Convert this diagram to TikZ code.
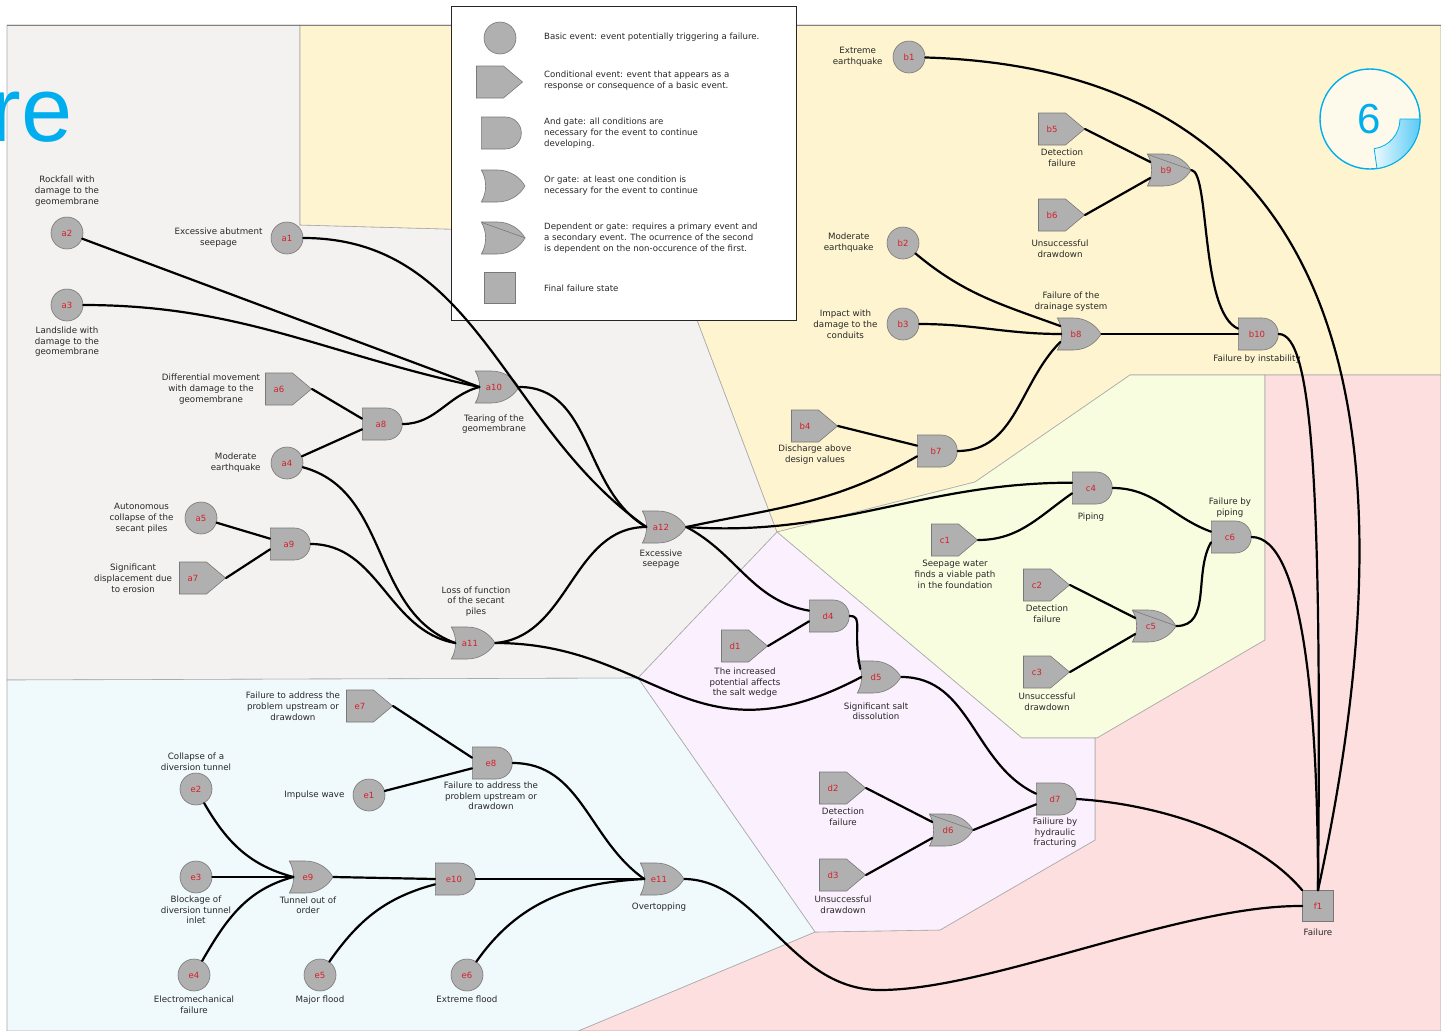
\documentclass[tikz,border=0pt]{standalone}
\usepackage{fontspec}
\setmainfont{DejaVu Sans}
\newfontfamily\titlefont{Liberation Sans}
\usetikzlibrary{positioning,calc,shapes.symbols,shapes.gates.logic.US}
\definecolor{evtfill}{RGB}{176,176,176}
\definecolor{evtline}{RGB}{120,120,120}
\definecolor{idred}{RGB}{215,30,40}
\definecolor{lbltext}{RGB}{40,40,40}
\definecolor{zonegrey}{RGB}{243,242,240}
\definecolor{zoneyellow}{RGB}{254,244,207}
\definecolor{zonegreen}{RGB}{249,253,224}
\definecolor{zonepink}{RGB}{253,223,223}
\definecolor{zonelilac}{RGB}{251,240,253}
\definecolor{zoneblue}{RGB}{240,249,252}
\definecolor{zoneline}{RGB}{170,170,170}
\definecolor{badgeblue}{RGB}{0,174,239}
\definecolor{badgecream}{RGB}{253,250,236}
\tikzset{
  evt/.style={draw=evtline,fill=evtfill,line width=0.6pt,text=idred,font=\fontsize{8.5}{9}\selectfont,inner sep=0pt},
  basicevt/.style={evt,circle,minimum size=32pt},
  condevt/.style={evt,signal,signal to=east,signal pointer angle=80,minimum width=46pt,minimum height=32pt},
  andgate/.style={evt,and gate US,logic gate inputs=nn,minimum width=38pt,minimum height=32pt},
  orgate/.style={evt,or gate US,logic gate inputs=nnn,minimum width=37pt,minimum height=32pt},
  finalst/.style={evt,rectangle,minimum size=31pt},
  lbl/.style={align=center,text=lbltext,font=\fontsize{8.7}{10.9}\selectfont,inner sep=0pt},
  condlbl/.style={lbl,xshift=10pt},
  lgtext/.style={lbl,align=left,anchor=west,font=\fontsize{8.6}{10.8}\selectfont},
  link/.style={line width=2.2pt,line cap=round},
  zone/.style={draw=zoneline,line width=0.6pt}
}
\begin{document}
\begin{tikzpicture}[x=1pt,y=-1pt]
\useasboundingbox (0,0) rectangle (1441,1031);
\fill[white] (0,0) rectangle (1441,1031);

\filldraw[zone,fill=zonegrey] (7,25) -- (300,25) -- (300,225) -- (665,235) -- (777,532) -- (638,678) -- (7,680) -- cycle;
\filldraw[zone,fill=zoneyellow] (300,25) -- (1441,25) -- (1441,375) -- (1130,375) -- (975,482) -- (777,532) -- (665,235) -- (300,225) -- cycle;
\filldraw[zone,fill=zonegreen] (777,532) -- (975,482) -- (1130,375) -- (1265,375) -- (1265,640) -- (1097,738) -- (1022,738) -- cycle;
\filldraw[zone,fill=zonepink] (1265,375) -- (1441,375) -- (1441,1031) -- (578,1031) -- (815,932) -- (940,930) -- (1095,840) -- (1095,738) -- (1097,738) -- (1265,640) -- cycle;
\filldraw[zone,fill=zonelilac] (777,532) -- (1022,738) -- (1095,738) -- (1095,840) -- (940,930) -- (815,932) -- (638,678) -- cycle;
\filldraw[zone,fill=zoneblue] (7,680) -- (638,678) -- (815,932) -- (578,1031) -- (7,1031) -- cycle;
\draw[gray,line width=0.8pt] (7,25) -- (1441,25);

\node[anchor=base east,text=badgeblue,font=\titlefont\fontsize{92}{92}\selectfont,inner sep=0pt] (titlere) at (73,141) {re};

\draw (1370,119) node[circle,draw=badgeblue,line width=1.4pt,fill=badgecream,minimum size=100pt] (badge) {};
\begin{scope}[shift={(1370,119)},y=1pt]
  \shade[left color=badgeblue!8,right color=badgeblue!65,draw=badgeblue,line width=0.8pt] (0:30) -- (0:50) arc[start angle=0,end angle=-82,radius=50] -- (-82:30) arc[start angle=-82,end angle=0,radius=30] -- cycle;
\end{scope}
\draw (1369,119) node[text=badgeblue,font=\titlefont\fontsize{42}{42}\selectfont,inner sep=0pt] (badgenum) {6};

\draw (451,6) node[draw=black!85,fill=white,line width=1pt,minimum width=345pt,minimum height=314pt,anchor=north west,inner sep=0pt] (legend) {};
\draw (500,38) node[basicevt] (lgbasic) {};
\draw (490,82) node[condevt] (lgcond) {};
\draw (500,133) node[andgate] (lgand) {};
\draw (500,186) node[orgate] (lgor) {};
\draw (500,238) node[orgate] (lgdepor) {};
\draw (500,288) node[finalst] (lgfinal) {};
\node[lgtext] (lgbasictxt) at (544,37) {Basic event: event potentially triggering a failure.};
\node[lgtext] (lgcondtxt) at (544,81) {Conditional event: event that appears as a\\response or consequence of a basic event.};
\node[lgtext] (lgandtxt) at (544,133) {And gate: all conditions are\\necessary for the event to continue\\developing.};
\node[lgtext] (lgortxt) at (544,186) {Or gate: at least one condition is\\necessary for the event to continue};
\node[lgtext] (lgdeportxt) at (544,238) {Dependent or gate: requires a primary event and\\a secondary event. The ocurrence of the second\\is dependent on the non-occurence of the first.};
\node[lgtext] (lgfinaltxt) at (544,288) {Final failure state};

\draw (67,233) node[basicevt] (a2) {a2};
\draw (67,305) node[basicevt] (a3) {a3};
\draw (287,238) node[basicevt] (a1) {a1};
\draw (279,389) node[condevt] (a6) {a6};
\draw (381,424) node[andgate] (a8) {a8};
\draw (287,463) node[basicevt] (a4) {a4};
\draw (494,387) node[orgate] (a10) {a10};
\draw (201,518) node[basicevt] (a5) {a5};
\draw (289,544) node[andgate] (a9) {a9};
\draw (193,578) node[condevt] (a7) {a7};
\draw (470,643) node[orgate] (a11) {a11};
\draw (661,527) node[orgate] (a12) {a12};

\draw (909,57) node[basicevt] (b1) {b1};
\draw (1052,129) node[condevt] (b5) {b5};
\draw (1166,170) node[orgate] (b9) {b9};
\draw (1052,215) node[condevt] (b6) {b6};
\draw (903,243) node[basicevt] (b2) {b2};
\draw (903,324) node[basicevt] (b3) {b3};
\draw (1076,334) node[orgate] (b8) {b8};
\draw (1257,334) node[andgate] (b10) {b10};
\draw (805,426) node[condevt] (b4) {b4};
\draw (936,451) node[andgate] (b7) {b7};

\draw (1091,488) node[andgate] (c4) {c4};
\draw (945,540) node[condevt] (c1) {c1};
\draw (1230,537) node[andgate] (c6) {c6};
\draw (1037,585) node[condevt] (c2) {c2};
\draw (1151,626) node[orgate] (c5) {c5};
\draw (1037,672) node[condevt] (c3) {c3};

\draw (828,616) node[andgate] (d4) {d4};
\draw (735,646) node[condevt] (d1) {d1};
\draw (876,677) node[orgate] (d5) {d5};
\draw (833,788) node[condevt] (d2) {d2};
\draw (948,830) node[orgate] (d6) {d6};
\draw (833,875) node[condevt] (d3) {d3};
\draw (1055,799) node[andgate] (d7) {d7};

\draw (360,706) node[condevt] (e7) {e7};
\draw (491,763) node[andgate] (e8) {e8};
\draw (369,795) node[basicevt] (e1) {e1};
\draw (196,789) node[basicevt] (e2) {e2};
\draw (196,877) node[basicevt] (e3) {e3};
\draw (308,877) node[orgate] (e9) {e9};
\draw (454,879) node[andgate] (e10) {e10};
\draw (659,879) node[orgate] (e11) {e11};
\draw (194,975) node[basicevt] (e4) {e4};
\draw (320,975) node[basicevt] (e5) {e5};
\draw (467,975) node[basicevt] (e6) {e6};

\draw (1318,906) node[finalst] (f1) {f1};

\foreach \g in {lgdepor,b9,c5,d6}
  \draw[evtline,line width=0.6pt] ($(\g.center)+(-18,-15.5)$) -- (\g.output);

\node[lbl,above=10pt of a2] (a2lbl) {Rockfall with\\damage to the\\geomembrane};
\node[lbl,below=5pt of a3] (a3lbl) {Landslide with\\damage to the\\geomembrane};
\node[lbl,left=8pt of a1] (a1lbl) {Excessive abutment\\seepage};
\node[lbl,left=5pt of a6] (a6lbl) {Differential movement\\with damage to the\\geomembrane};
\node[lbl,left=10pt of a4] (a4lbl) {Moderate\\earthquake};
\node[lbl,below=11pt of a10] (a10lbl) {Tearing of the\\geomembrane};
\node[lbl,left=11pt of a5] (a5lbl) {Autonomous\\collapse of the\\secant piles};
\node[lbl,left=7pt of a7] (a7lbl) {Significant\\displacement due\\to erosion};
\node[lbl,above=10pt of a11,xshift=6pt] (a11lbl) {Loss of function\\of the secant\\piles};
\node[lbl,below=6pt of a12] (a12lbl) {Excessive\\seepage};

\node[lbl,left=10pt of b1] (b1lbl) {Extreme\\earthquake};
\node[condlbl,below=3pt of b5] (b5lbl) {Detection\\failure};
\node[condlbl,below=8pt of b6,xshift=-2pt] (b6lbl) {Unsuccessful\\drawdown};
\node[lbl,left=13pt of b2] (b2lbl) {Moderate\\earthquake};
\node[lbl,left=9pt of b3] (b3lbl) {Impact with\\damage to the\\conduits};
\node[lbl,above=6pt of b8,xshift=-5pt] (b8lbl) {Failure of the\\drainage system};
\node[lbl,below=4pt of b10] (b10lbl) {Failure by instability};
\node[condlbl,below=2pt of b4] (b4lbl) {Discharge above\\design values};

\node[lbl,below=8pt of c4] (c4lbl) {Piping};
\node[condlbl,below=4pt of c1] (c1lbl) {Seepage water\\finds a viable path\\in the foundation};
\node[lbl,above=3pt of c6] (c6lbl) {Failure by\\piping};
\node[condlbl,below=3pt of c2] (c2lbl) {Detection\\failure};
\node[condlbl,below=4pt of c3] (c3lbl) {Unsuccessful\\drawdown};

\node[condlbl,below=5pt of d1] (d1lbl) {The increased\\potential affects\\the salt wedge};
\node[lbl,below=9pt of d5] (d5lbl) {Significant salt\\dissolution};
\node[condlbl,below=3pt of d2] (d2lbl) {Detection\\failure};
\node[condlbl,below=4pt of d3] (d3lbl) {Unsuccessful\\drawdown};
\node[lbl,below=2pt of d7] (d7lbl) {Failiure by\\hydraulic\\fracturing};

\node[lbl,left=6pt of e7] (e7lbl) {Failure to address the\\problem upstream or\\drawdown};
\node[lbl,below=2pt of e8] (e8lbl) {Failure to address the\\problem upstream or\\drawdown};
\node[lbl,left=8pt of e1] (e1lbl) {Impulse wave};
\node[lbl,above=2pt of e2] (e2lbl) {Collapse of a\\diversion tunnel};
\node[lbl,below=2pt of e3] (e3lbl) {Blockage of\\diversion tunnel\\inlet};
\node[lbl,below=3pt of e9] (e9lbl) {Tunnel out of\\order};
\node[lbl,below=7pt of e11] (e11lbl) {Overtopping};
\node[lbl,below=4pt of e4] (e4lbl) {Electromechanical\\failure};
\node[lbl,below=4pt of e5] (e5lbl) {Major flood};
\node[lbl,below=4pt of e6] (e6lbl) {Extreme flood};

\node[lbl,below=7pt of f1] (f1lbl) {Failure};

\draw[link] (a2) -- (a10.input 2);
\draw[link] (a3) to[out=0,in=168] (a10.input 2);
\draw[link] (a8.output) to[out=0,in=195] (a10.input 2);
\draw[link] (a6.east) -- (a8.input 1);
\draw[link] (a4) -- (a8.input 2);
\draw[link] (a1) to[out=0,in=145] (a12.input 2);
\draw[link] (a10.output) to[out=0,in=150] (a12.input 2);
\draw[link] (a5) -- (a9.input 1);
\draw[link] (a7.east) -- (a9.input 2);
\draw[link] (a4) to[out=-15,in=160] (a11.input 2);
\draw[link] (a9.output) to[out=0,in=170] (a11.input 2);
\draw[link] (a11.output) to[out=5,in=180] (a12.input 2);
\draw[link] (a11.output) .. controls +(160,0) and +(-170,90) .. (d5.input 2);
\draw[link] (a12.output) to[out=12,in=210] (b7.input 2);
\draw[link] (a12.output) to[out=-4,in=180] (c4.input 1);
\draw[link] (a12.output) to[out=-28,in=170] (d4.input 1);

\draw[link] (b1) .. controls (1350,70) and (1420,420) .. (f1.north);
\draw[link] (b5.east) -- (b9.input 1);
\draw[link] (b6.east) -- (b9.input 3);
\draw[link] (b9.output) .. controls (1210,172) and (1200,312) .. (b10.input 1);
\draw[link] (b2) to[out=-40,in=160] (b8.input 1);
\draw[link] (b3) to[out=0,in=180] (b8.input 2);
\draw[link] (b7.output) to[out=0,in=225] (b8.input 3);
\draw[link] (b8.output) -- (b10.west);
\draw[link] (b4.east) -- (b7.input 1);
\draw[link] (b10.output) .. controls (1312,334) and (1322,480) .. (f1.north);

\draw[link] (c1.east) to[out=0,in=215] (c4.input 2);
\draw[link] (c4.output) to[out=0,in=160] (c6.input 1);
\draw[link] (c2.east) -- (c5.input 1);
\draw[link] (c3.east) -- (c5.input 3);
\draw[link] (c5.output) to[out=0,in=240] (c6.input 2);
\draw[link] (c6.output) .. controls (1302,537) and (1318,700) .. (f1.north);

\draw[link] (d1.east) -- (d4.input 2);
\draw[link] (d4.output) .. controls +(14,0) and +(-8,-40) .. (d5.input 1);
\draw[link] (d5.output) to[out=0,in=155] (d7.input 1);
\draw[link] (d2.east) -- (d6.input 1);
\draw[link] (d3.east) -- (d6.input 3);
\draw[link] (d6.output) -- (d7.input 2);
\draw[link] (d7.output) .. controls (1170,805) and (1260,840) .. (f1.north west);

\draw[link] (e7.east) -- (e8.input 1);
\draw[link] (e1) -- (e8.input 2);
\draw[link] (e8.output) to[out=0,in=145] (e11.input 2);
\draw[link] (e2) to[out=-60,in=165] (e9.input 2);
\draw[link] (e3) -- (e9.input 2);
\draw[link] (e4) to[out=60,in=195] (e9.input 2);
\draw[link] (e9.output) -- (e10.west);
\draw[link] (e5) to[out=55,in=195] (e10.input 2);
\draw[link] (e10.output) -- (e11.input 2);
\draw[link] (e6) to[out=55,in=183] (e11.input 2);
\draw[link] (e11.output) .. controls (760,880) and (790,990) .. (880,990) .. controls (990,990) and (1180,905) .. (f1.west);
\end{tikzpicture}
\end{document}
